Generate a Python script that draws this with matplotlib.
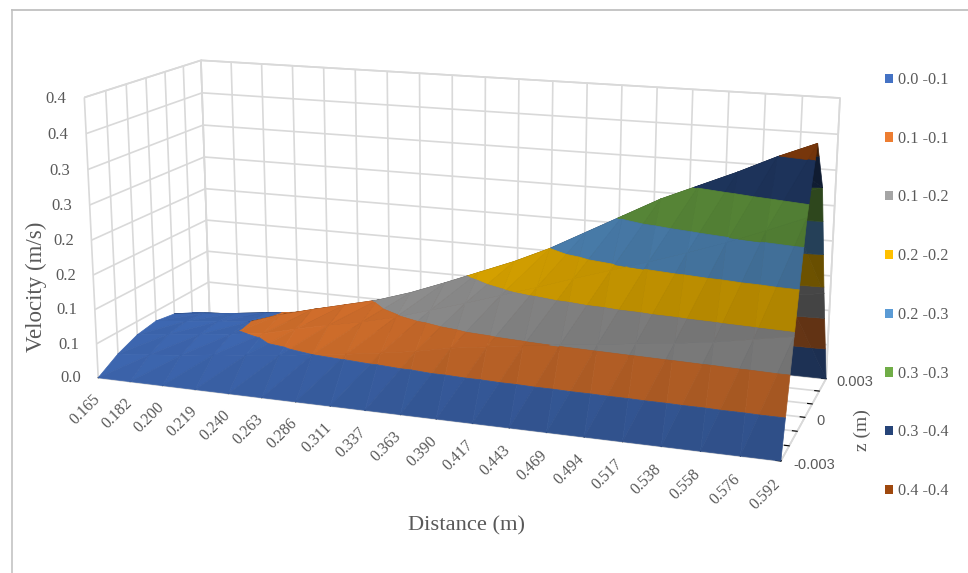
import numpy as np
import matplotlib
matplotlib.use('Agg')
import matplotlib.pyplot as plt
from matplotlib.lines import Line2D
from matplotlib.patches import Patch
from mpl_toolkits.mplot3d import proj3d
from mpl_toolkits.mplot3d.art3d import Poly3DCollection

################################################################################
distance_labels = ['0.165', '0.182', '0.200', '0.219', '0.240', '0.263', '0.286', '0.311', '0.337', '0.363',
                   '0.390', '0.417', '0.443', '0.469', '0.494', '0.517', '0.538', '0.558', '0.576', '0.592']
velocity_labels = ['0.0', '0.1', '0.1', '0.2', '0.2', '0.3', '0.3', '0.4', '0.4']
velocity_ticks = [0, .05, .10, .15, .20, .25, .30, .35, .40]
z_labels = ['-0.003', '', '', '0', '', '', '0.003']

# velocity along the channel, one list per z station
v_z_m003 = [0, 0, 0, 0, 0, 0, 0, 0, 0, 0, 0, 0, 0, 0, 0, 0, 0, 0, 0, 0]
v_z_m002 = [.018, .022, .027, .033, .038, .043, .050, .056, .063, .071, .081, .088, .095, .102, .108, .114, .120, .127, .136, .145]
v_z_m001 = [.030, .036, .041, .047, .053, .065, .076, .086, .098, .113, .128, .144, .160, .177, .193, .209, .226, .244, .264, .285]
v_z_0 = [.035, .040, .044, .049, .065, .078, .090, .102, .118, .137, .157, .177, .200, .227, .254, .281, .303, .325, .349, .370]
v_z_p001 = [.030, .036, .041, .047, .053, .065, .076, .086, .098, .113, .130, .150, .168, .186, .205, .225, .245, .265, .283, .300]
v_z_p002 = [.016, .020, .025, .031, .036, .041, .048, .054, .060, .068, .076, .083, .090, .097, .104, .111, .118, .125, .132, .140]
v_z_p003 = [0, 0, 0, 0, 0, 0, 0, 0, 0, 0, 0, 0, 0, 0, 0, 0, 0, 0, 0, 0]

band_labels = ['0.0 -0.1', '0.1 -0.1', '0.1 -0.2', '0.2 -0.2', '0.2 -0.3', '0.3 -0.3', '0.3 -0.4', '0.4 -0.4']
band_colors = ['#4472C4', '#ED7D31', '#A5A5A5', '#FFC000', '#5B9BD5', '#70AD47', '#264478', '#9E480E']
################################################################################
W, H = 968, 573
SERIF = 'Liberation Serif'
GRID = '#d9d9d9'
TXT = '#595959'

plt.rcParams['grid.color'] = GRID
plt.rcParams['grid.linewidth'] = 1.2

V = np.array([v_z_m003, v_z_m002, v_z_m001, v_z_0, v_z_p001, v_z_p002, v_z_p003])
nz, nx = V.shape

fig = plt.figure(figsize=(W / 100, H / 100), dpi=100)
size, cx, cy = 772.7, 451.4, 321.96
ax = fig.add_axes([(cx - size / 2) / W, (cy - size / 2) / H, size / W, size / H], projection='3d')
ax.computed_zorder = False
ax.set_proj_type('persp', focal_length=.4574)
ax.view_init(elev=14.338, azim=-70.24)
ax.set_box_aspect((1, .3543, .4141))
ax.set_xlim(0, nx - 1, view_margin=0)
ax.set_ylim(0, nz - 1, view_margin=0)
ax.set_zlim(0, .4, view_margin=0)
ax.set_xticks(range(nx))
ax.set_yticks(range(nz))
ax.set_zticks(velocity_ticks)
ax.set_xticklabels([])
ax.set_yticklabels([])
ax.set_zticklabels([])
ax.patch.set_alpha(0)
for axis in (ax.xaxis, ax.yaxis, ax.zaxis):
    axis.set_pane_color((1, 1, 1, 1))
    axis.pane.set_edgecolor(GRID)
    axis.pane.set_linewidth(1.2)
    axis.line.set_color((0, 0, 0, 0))
    axis._axinfo['tick']['color'] = GRID
    axis._axinfo['tick']['inward_factor'] = 0
    axis._axinfo['tick']['outward_factor'] = .08
ax.zaxis.set_ticks_position('none')
M = ax.get_proj()


################################################################################
# keep the part of a polygon (x, y, v) on one side of a velocity level
def clip_level(poly, level, keep_above):
    out = []
    for a, b in zip(poly, poly[1:] + poly[:1]):
        in_a = a[2] >= level if keep_above else a[2] <= level
        in_b = b[2] >= level if keep_above else b[2] <= level
        if in_a:
            out.append(a)
        if in_a != in_b:
            t = (level - a[2]) / (b[2] - a[2])
            out.append(tuple(a[k] + t * (b[k] - a[k]) for k in range(3)))
    return out


# brightness of one triangle, lit from above, underside in the dark
def triangle_shade(tri):
    pts = np.array(tri) * np.array([1 / (nx - 1), .3543 / (nz - 1), .4141 / .4])
    n = np.cross(pts[1] - pts[0], pts[2] - pts[0])
    n = n / np.linalg.norm(n)
    if n[2] < 0:
        n = -n
    xs, ys, _ = proj3d.proj_transform(*np.array(tri).T, M)
    area = (xs[1] - xs[0]) * (ys[2] - ys[0]) - (xs[2] - xs[0]) * (ys[1] - ys[0])
    ordered = np.cross(np.array(tri[1]) - tri[0], np.array(tri[2]) - tri[0])[2] > 0
    facing = (area > 0) == ordered
    if not facing:
        return .42
    return .60 + .30 * n[2] + .10 * n[0]


# the far slope is painted first, the near slope over it
for rows, order in ((range(3, nz - 1), 1), (range(0, 3), 2)):
    polys, colors = [], []
    for j in rows:
        for i in range(nx - 1):
            p00 = (i, j, V[j, i])
            p10 = (i + 1, j, V[j, i + 1])
            p01 = (i, j + 1, V[j + 1, i])
            p11 = (i + 1, j + 1, V[j + 1, i + 1])
            # the two triangles of a cell differ a little in tone
            for tri, tone in (([p00, p10, p11], .98), ([p00, p11, p01], 1.015)):
                shade = triangle_shade(tri) * tone
                for b, col in enumerate(band_colors):
                    piece = clip_level(clip_level(tri, b * .05, True), (b + 1) * .05, False)
                    if len(piece) >= 3:
                        polys.append(np.array(piece))
                        colors.append(np.clip(np.array(matplotlib.colors.to_rgb(col)) * shade, 0, 1))
    ax.add_collection3d(Poly3DCollection(polys, facecolors=colors, edgecolors=colors, linewidths=.5,
                                         zsort='average', zorder=order))


################################################################################
# axis labels, put at the projected position of a point of the box
def box_text(x, y, z, s, **kw):
    px, py, _ = proj3d.proj_transform(x, y, z, M)
    ax.text2D(px, py, s, transform=ax.transData, color=TXT, **kw)


for i, lab in enumerate(distance_labels):
    box_text(i - .2, 0, -.021, lab, rotation=45, rotation_mode='anchor', ha='right', va='top',
             family=SERIF, fontsize=11.5)
for val, lab in zip(velocity_ticks, velocity_labels):
    box_text(-.55, 0, val - .004, lab, ha='right', va='center', family=SERIF, fontsize=12)
for j, lab in enumerate(z_labels):
    if lab:
        box_text(nx - 1 + .3, j, -.003, lab, ha='left', va='center', family='Liberation Sans', fontsize=10.5)

fig.text(466 / W, 1 - 526 / H, 'Distance (m)', ha='center', va='center', family=SERIF, fontsize=16.2, color=TXT)
fig.text(36 / W, 1 - 287 / H, 'Velocity (m/s)', ha='center', va='center', rotation=90, family=SERIF, fontsize=16.5, color=TXT)
fig.text(862 / W, 1 - 430 / H, 'z (m)', ha='center', va='center', rotation=90, family=SERIF, fontsize=14, color=TXT)

handles = [Patch(facecolor=c, edgecolor='none') for c in band_colors]
fig.legend(handles, band_labels, loc='upper left', bbox_to_anchor=(885 / W, 1 - 72 / H), frameon=False,
           prop={'family': SERIF, 'size': 11.7}, labelcolor=TXT, handlelength=.5, handleheight=.5,
           handletextpad=.3, labelspacing=2.63, borderpad=0, borderaxespad=0)

# chart frame, only the top and left sides are inside the image
fig.add_artist(Line2D([11.5 / W, 11.5 / W], [0, 1 - 10 / H], color='#c8c8c8', lw=1.3))
fig.add_artist(Line2D([11.5 / W, 1], [1 - 10 / H, 1 - 10 / H], color='#c0c0c0', lw=1.3))

fig.savefig('out.png', dpi=100)
